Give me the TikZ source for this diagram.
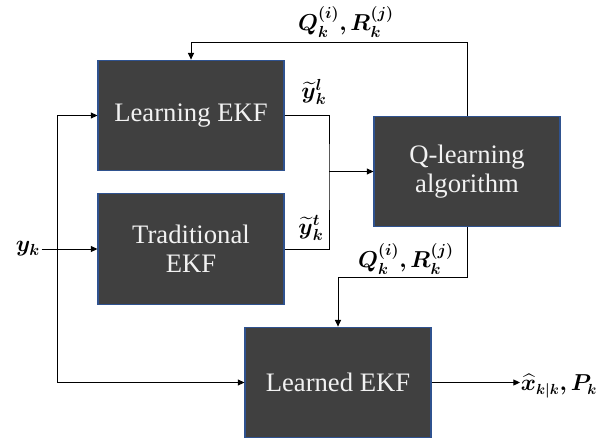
\documentclass[tikz,border=0pt]{standalone}
\usepackage{amsmath,amssymb,bm}
\usepackage{fontspec}
\setmainfont{Liberation Serif}
\newfontfamily\boxfont{Liberation Serif}
\usetikzlibrary{arrows.meta}
\definecolor{boxfill}{HTML}{404040}
\definecolor{boxedge}{HTML}{2F528F}
\definecolor{boxtext}{HTML}{F2F2F2}
\tikzset{
  blockbox/.style={draw=boxedge, line width=0.8pt, fill=boxfill, text=boxtext,
    minimum width=139.5pt, minimum height=83pt, inner sep=0pt, align=center,
    font=\boxfont\fontsize{20}{24}\selectfont},
  conn/.style={draw=black, line width=0.75pt},
  arr/.style={conn, -{Triangle[length=5pt,width=4.5pt]}},
  mlabel/.style={inner sep=1pt, font=\fontsize{17}{20}\selectfont}
}
\begin{document}
\begin{tikzpicture}[x=0.75pt,y=-0.75pt]
\useasboundingbox (0,0) rectangle (599,439);
\node[blockbox] (le) at (191,115.5) {Learning EKF};
\node[blockbox] (te) at (191,249) {Traditional\\[-2pt]EKF};
\node[blockbox] (ql) at (467,171.5) {Q-learning\\[-2pt]algorithm};
\node[blockbox] (ld) at (338,382.5) {Learned EKF};

\node[mlabel] (yk) at (28,249) {$\bm{y_k}$};
\node[mlabel] (yl) at (314,92) {$\widetilde{\bm{y}}{}_{\bm{k}}^{\bm{l}}$};
\node[mlabel] (yt) at (311,228) {$\widetilde{\bm{y}}{}_{\bm{k}}^{\bm{t}}$};
\node[mlabel] (qrt) at (346,22) {$\bm{Q}_{\bm{k}}^{\bm{(i)}}\bm{,}\bm{R}_{\bm{k}}^{\bm{(j)}}$};
\node[mlabel] (qrb) at (406,259) {$\bm{Q}_{\bm{k}}^{\bm{(i)}}\bm{,}\bm{R}_{\bm{k}}^{\bm{(j)}}$};
\node[mlabel, anchor=west, inner sep=0.5pt, font=\fontsize{16}{20}\selectfont] (out) at (520,386) {$\widehat{\bm{x}}_{\bm{k|k}}\bm{,}\bm{P_k}$};

\coordinate (j) at (57,249);
\coordinate (mx) at (329,171.5);
\coordinate (top) at (467,42);
\coordinate (bot) at (467,277);
\coordinate (oend) at (520,382.5);

\draw[arr] (yk.east) -- (te.west);
\draw[arr] (j) |- (le.west);
\draw[arr] (j) |- (ld.west);
\draw[conn] (le.east) -| (mx) |- (te.east);
\draw[arr] (mx) -- (ql.west);
\draw[arr] (ql.north) -- (top) -| (le.north);
\draw[arr] (ql.south) -- (bot) -| (ld.north);
\draw[arr] (ld.east) -- (oend);
\end{tikzpicture}
\end{document}
